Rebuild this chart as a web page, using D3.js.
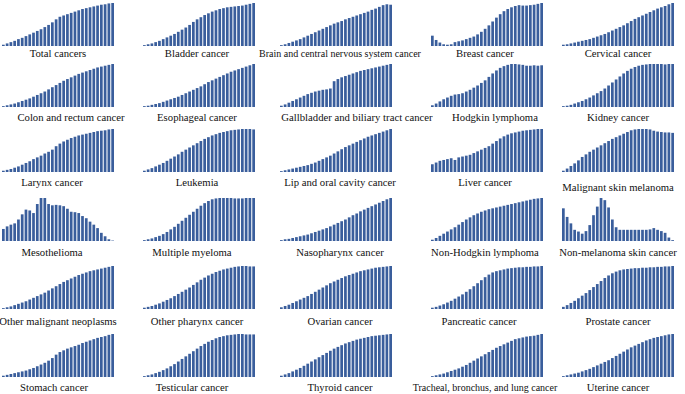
<!DOCTYPE html>
<html>
<head>
<meta charset="utf-8">
<script src="https://cdn.jsdelivr.net/npm/d3@7"></script>
<style>
  body { margin: 0; background: #fff; }
  svg text { font-family: "Times New Roman", "Liberation Serif", serif; fill: #111; }
</style>
</head>
<body>
<svg id="chart" width="685" height="394"></svg>
<script>
// years on the x axis of every small panel
var years = [1990,1991,1992,1993,1994,1995,1996,1997,1998,1999,2000,2001,2002,2003,2004,
             2005,2006,2007,2008,2009,2010,2011,2012,2013,2014,2015,2016,2017,2018,2019];

// panel titles, row by row
var cancers = [
  "Total cancers", "Bladder cancer", "Brain and central nervous system cancer", "Breast cancer", "Cervical cancer",
  "Colon and rectum cancer", "Esophageal cancer", "Gallbladder and biliary tract cancer", "Hodgkin lymphoma", "Kidney cancer",
  "Larynx cancer", "Leukemia", "Lip and oral cavity cancer", "Liver cancer", "Malignant skin melanoma",
  "Mesothelioma", "Multiple myeloma", "Nasopharynx cancer", "Non-Hodgkin lymphoma", "Non-melanoma skin cancer",
  "Other malignant neoplasms", "Other pharynx cancer", "Ovarian cancer", "Pancreatic cancer", "Prostate cancer",
  "Stomach cancer", "Testicular cancer", "Thyroid cancer", "Tracheal, bronchus, and lung cancer", "Uterine cancer"
];

// relative values (each panel scaled to its own max)
var totalCancers = [3,6,9,12,16,19,23,27,31,35,39,44,49,55,62,68,71,74,77,80,83,86,88,90,92,94,96,97,99,100];
var bladder      = [2,4,6,9,12,16,20,24,28,33,38,43,49,56,62,67,72,76,80,83,86,88,90,91,92,93,94,96,98,100];
var brain        = [2,4,7,10,13,16,20,24,28,32,36,40,44,48,52,55,58,62,65,68,71,74,77,80,84,87,91,95,97,96];
var breast       = [24,14,8,4,3,4,9,11,13,16,19,22,27,33,40,48,57,66,74,81,86,90,93,95,94,94,95,96,98,100];
var cervical     = [3,4,6,8,10,12,14,16,19,22,25,28,32,36,40,44,48,53,58,63,67,71,75,79,83,87,90,93,97,100];
var colon        = [2,4,6,8,11,14,17,20,24,28,32,36,41,46,51,56,61,65,69,73,77,80,83,86,89,92,94,96,98,100];
var esophageal   = [2,3,5,7,9,12,15,18,21,24,28,32,36,40,44,48,53,58,62,66,70,74,78,82,85,88,91,94,97,100];
var gallbladder  = [3,6,10,14,18,22,26,30,33,36,38,40,41,43,60,65,69,72,75,78,81,84,86,88,90,92,94,96,98,100];
var hodgkin      = [4,8,13,18,22,26,29,30,32,36,40,45,50,56,62,70,78,85,91,95,98,100,100,99,98,96,96,97,96,97];
var kidney       = [2,3,5,8,11,14,18,22,27,32,37,43,50,57,64,71,78,84,89,93,96,98,99,100,100,100,100,99,100,100];
var larynx       = [3,5,7,10,13,17,21,25,30,34,38,43,47,52,60,66,71,75,79,82,85,87,89,91,93,95,96,97,99,100];
var leukemia     = [3,6,9,13,17,21,26,31,36,41,47,52,57,62,67,72,77,81,85,88,91,93,95,97,98,99,100,100,100,99];
var lipOral      = [2,4,6,8,10,12,14,16,19,22,26,30,34,38,43,48,53,58,62,66,70,74,78,82,85,88,91,94,97,100];
var liver        = [18,22,26,28,30,32,28,34,36,38,40,44,48,52,56,60,66,72,78,83,87,90,92,94,96,97,98,99,100,100];
var melanoma     = [3,8,14,20,27,35,41,47,52,57,62,67,72,77,81,85,89,93,97,99,100,100,100,99,96,94,93,92,92,91];
var mesothelioma = [28,34,38,41,50,62,73,71,65,86,100,100,86,83,84,83,81,75,68,67,65,58,53,45,38,30,19,11,4,1];
var myeloma      = [2,4,6,9,12,16,21,27,33,40,47,54,61,68,75,82,88,93,97,99,100,100,100,100,99,99,99,100,100,100];
var nasopharynx  = [2,4,5,7,9,11,13,15,18,21,24,27,30,34,38,42,46,50,55,60,64,69,73,77,81,85,89,93,97,100];
var nonHodgkin   = [3,7,12,17,22,27,32,38,44,50,55,60,64,68,71,74,76,78,80,82,84,86,88,90,92,94,96,98,99,100];
var nonMelanoma  = [76,56,41,26,22,17,23,37,60,80,100,95,78,50,32,26,26,26,26,26,26,26,26,27,30,26,23,19,8,2];
var otherMalig   = [2,4,6,9,12,15,18,22,26,30,34,38,43,48,53,58,63,67,71,75,79,82,85,88,90,92,94,96,98,100];
var otherPharynx = [3,5,7,10,13,17,21,25,30,35,40,45,50,56,62,68,73,78,82,86,89,92,94,96,98,99,100,100,99,99];
var ovarian      = [4,7,10,14,18,22,26,30,35,40,45,50,55,60,64,68,72,76,79,82,85,88,90,92,94,96,97,98,99,100];
var pancreatic   = [3,5,8,11,15,19,24,29,34,40,46,53,60,67,74,80,85,88,90,92,94,95,96,97,97,98,98,99,99,100];
var prostate     = [5,9,14,19,25,31,37,44,51,58,65,72,78,83,87,90,92,93,94,95,95,96,96,97,97,98,98,99,99,100];
var stomach      = [3,5,7,9,11,13,15,18,21,25,29,33,38,44,52,58,62,66,69,72,75,79,82,85,88,91,93,95,98,100];
var testicular   = [2,4,6,9,12,16,20,25,30,36,42,48,54,60,66,72,77,82,86,90,93,95,97,98,99,100,100,99,99,99];
var thyroid      = [3,6,9,13,17,21,26,31,36,41,46,51,56,61,66,70,74,78,81,84,87,89,91,93,95,96,97,98,99,100];
var tracheal     = [2,4,6,8,11,14,17,20,24,28,33,38,43,48,53,58,63,68,72,76,80,84,88,90,92,94,95,96,98,100];
var uterine      = [2,4,6,8,10,13,16,19,23,27,31,35,39,44,49,54,59,64,69,73,77,81,85,88,91,93,95,97,99,100];

var series = [
  totalCancers, bladder, brain, breast, cervical,
  colon, esophageal, gallbladder, hodgkin, kidney,
  larynx, leukemia, lipOral, liver, melanoma,
  mesothelioma, myeloma, nasopharynx, nonHodgkin, nonMelanoma,
  otherMalig, otherPharynx, ovarian, pancreatic, prostate,
  stomach, testicular, thyroid, tracheal, uterine
];

// layout of the grid
var colX = [2, 143, 280, 431, 562];
var colLabelShift = [0, -2, 4, -2, 0];
var rowBase = [46, 107, 172, 241, 309, 377];
var labelY = [57, 121, 186, 256, 325, 391];
var panelW = 112, panelH = 43;
var barColor = "#3a5e9c";
var smallLabels = {"Brain and central nervous system cancer": 1, "Tracheal, bronchus, and lung cancer": 1};
// a few titles sit off the panel centre in the original
var labelShift = {"Colon and rectum cancer": 13, "Gallbladder and biliary tract cancer": 17,
                  "Hodgkin lymphoma": 10, "Larynx cancer": -6, "Mesothelioma": -6, "Stomach cancer": -4,
                  "Multiple myeloma": -5, "Testicular cancer": -5, "Pancreatic cancer": -6};

var svg = d3.select("#chart");

cancers.forEach(function (name, k) {
  var col = k % 5, row = Math.floor(k / 5);
  var x0 = colX[col], base = rowBase[row];

  var x = d3.scaleBand().domain(years).range([x0, x0 + panelW]).paddingInner(0.28);
  var y = d3.scaleLinear().domain([0, 100]).range([base, base - panelH]);

  var g = svg.append("g");
  g.selectAll("rect")
    .data(series[k].map(function (v, i) { return {year: years[i], value: v}; }))
    .join("rect")
      .attr("x", d => x(d.year))
      .attr("y", d => y(d.value))
      .attr("width", x.bandwidth())
      .attr("height", d => base - y(d.value))
      .attr("fill", barColor);

  var ly = labelY[row];
  if (name == "Malignant skin melanoma") ly += 5;
  g.append("text")
    .attr("x", x0 + panelW / 2 + colLabelShift[col] + (labelShift[name] || 0))
    .attr("y", ly)
    .attr("text-anchor", "middle")
    .style("font-size", smallLabels[name] ? "10px" : "10.7px")
    .text(name);
});
</script>
</body>
</html>
